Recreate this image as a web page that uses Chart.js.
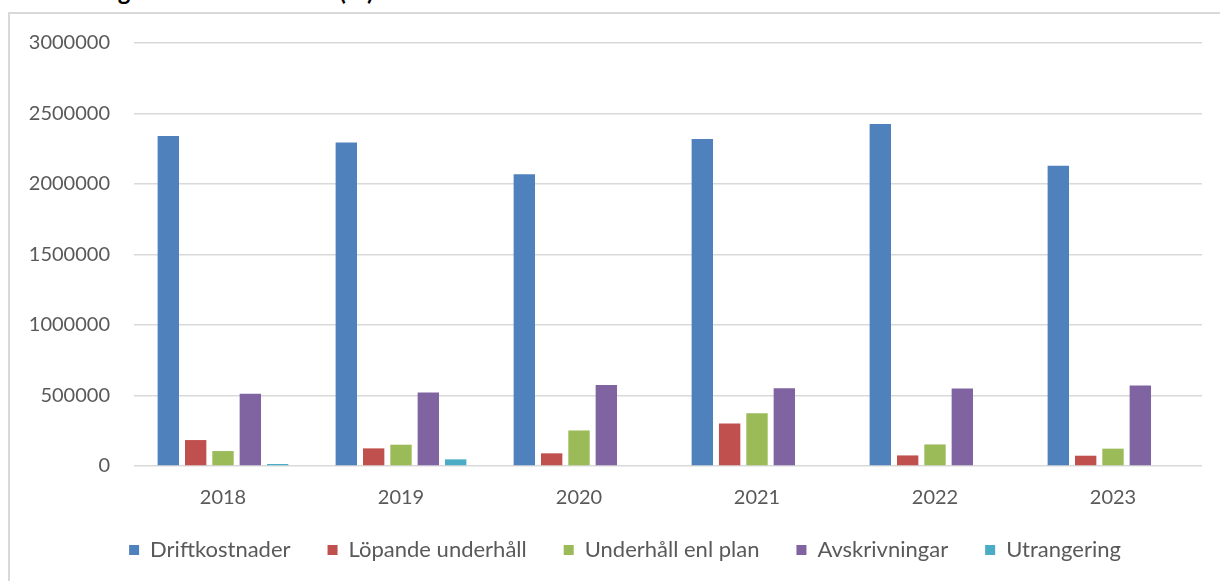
<!DOCTYPE html>
<html><head><meta charset="utf-8">
<script src="https://cdn.jsdelivr.net/npm/chart.js@4.4.0/dist/chart.umd.min.js"></script>
<style>
html,body{margin:0;padding:0;background:#fff;overflow:hidden;width:1220px;height:581px;position:relative;}
#title{position:absolute;left:10px;top:-21px;font:bold 24px/24px Lato,sans-serif;color:#000;white-space:nowrap;word-spacing:11px;}
#frame{position:absolute;left:8px;top:12px;width:1212px;height:575px;border:2px solid #d9d9d9;background:#fff;}
#wrap{position:absolute;left:0;top:0;width:1210px;height:570px;}
</style></head><body>
<div id="title">Förvaltningskostnader totalt (kr)</div>
<div id="frame"><div id="wrap"><canvas id="c"></canvas></div></div>
<script>
const years = ['2018','2019','2020','2021','2022','2023'];
const driftkostnader = [2341000, 2295000, 2069000, 2319000, 2426000, 2129000];
const lopandeUnderhall = [184000, 125000, 90000, 302000, 75000, 73000];
const underhallEnlPlan = [106000, 151000, 252000, 375000, 153000, 123000];
const avskrivningar = [512000, 521000, 575000, 552000, 550000, 571000];
const utrangering = [14000, 47000, 0, 0, 0, 0];
const seriesNames = ['Driftkostnader','Löpande underhåll','Underhåll enl plan','Avskrivningar','Utrangering'];
const yTicks = [0, 500000, 1000000, 1500000, 2000000, 2500000, 3000000];

const colors = ['#4F81BD','#C0504D','#9BBB59','#8064A2','#4BACC6'];
const values = [driftkostnader, lopandeUnderhall, underhallEnlPlan, avskrivningar, utrangering];

const legendFix = {
  id: 'legendFix',
  beforeInit(chart) {
    const lg = chart.legend;
    const of = lg.fit;
    lg.fit = function() { of.call(this); this.height = 46; };
    const od = lg.draw;
    lg.draw = function(a) { const ctx = this.ctx; ctx.save(); ctx.translate(19, 0); od.call(this, a); ctx.restore(); };
  },
  afterLayout(chart) {
    const lg = chart.legend;
    lg.top = lg.top - 14;
    lg.bottom = lg.top + 66;
    lg.height = 66;
  }
};

new Chart(document.getElementById('c'), {
  type: 'bar',
  data: {
    labels: years,
    datasets: seriesNames.map((n, i) => ({
      label: n,
      data: values[i],
      backgroundColor: colors[i],
      borderWidth: 0,
      categoryPercentage: 0.768,
      barPercentage: 0.782
    }))
  },
  options: {
    responsive: true,
    maintainAspectRatio: false,
    animation: false,
    devicePixelRatio: 1,
    layout: { padding: { top: 29, left: 0, right: 18, bottom: 22 } },
    plugins: {
      tooltip: { enabled: false },
      legend: {
        position: 'bottom',
        labels: {
          boxWidth: 10, boxHeight: 10, padding: 37,
          color: '#595959',
          font: { family: 'Lato', size: 22 }
        }
      }
    },
    scales: {
      x: {
        grid: { display: false, drawTicks: false },
        border: { display: false },
        ticks: { color: '#595959', font: { family: 'Lato', size: 20 }, padding: 20 },
        afterFit(s) { s.height = 50; }
      },
      y: {
        min: 0, max: 3000000,
        afterBuildTicks(s) { s.ticks = yTicks.map(v => ({ value: v })); },
        grid: { color: '#d9d9d9', lineWidth: 1.5, drawTicks: false },
        border: { display: false },
        ticks: { color: '#595959', font: { family: 'Lato', size: 20 }, padding: 24, callback: v => String(v) },
        afterFit(s) { s.width = 124; s.paddingTop = 0; s.paddingBottom = 0; }
      }
    }
  },
  plugins: [legendFix]
});
</script>
</body></html>
